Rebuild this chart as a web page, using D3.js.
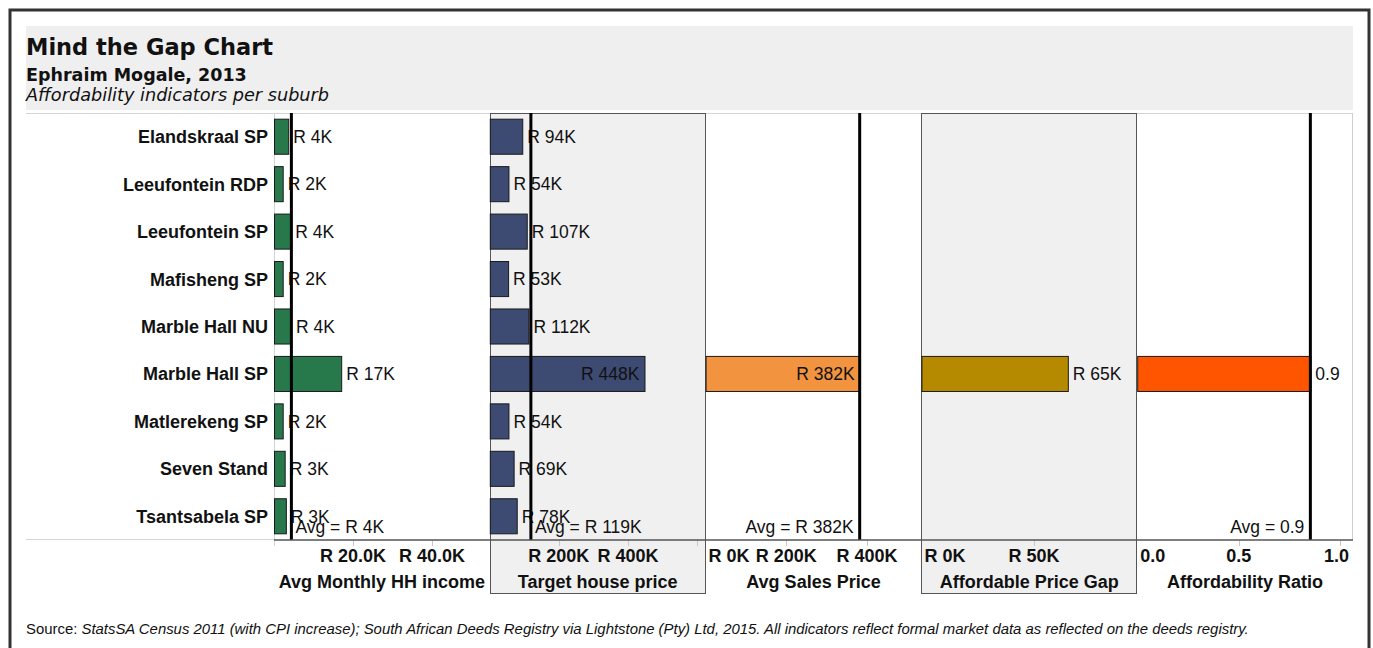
<!DOCTYPE html>
<html>
<head>
<meta charset="utf-8">
<script src="https://cdn.jsdelivr.net/npm/d3@7"></script>
<style>
  html, body { margin: 0; padding: 0; background: #ffffff; }
  svg { display: block; }
</style>
</head>
<body>
<div id="chart"></div>
<script>
// Suburbs (rows) and affordability indicators (one panel per indicator)
const suburbs = [
  "Elandskraal SP", "Leeufontein RDP", "Leeufontein SP", "Mafisheng SP",
  "Marble Hall NU", "Marble Hall SP", "Matlerekeng SP", "Seven Stand", "Tsantsabela SP"
];

// Values in Rand thousands, except the ratio
const hhIncome      = [3.6, 2.2, 4.1, 2.2, 4.3, 17.0, 2.2, 2.7, 3.0];
const targetPrice   = [94, 54, 107, 53, 112, 448, 54, 69, 78];
const salesPrice    = [null, null, null, null, null, 382, null, null, null];
const priceGap      = [null, null, null, null, null, 65, null, null, null];
const affordRatio   = [null, null, null, null, null, 0.853, null, null, null];

const panelTitles   = ["Avg Monthly HH income", "Target house price", "Avg Sales Price",
                       "Affordable Price Gap", "Affordability Ratio"];
const panelAverages = [4.4, 119, 382, null, 0.853];
const panelMax      = [54.6, 625, 535, 95.8, 1.063];
const panelTicks    = [[0, 20, 40], [0, 200, 400, 600], [0, 200, 400], [0, 50], [0, 0.5, 1]];

const panelColors   = ["#27794b", "#3d4a72", "#f2943f", "#b68a00", "#ff5500"];
const panelShaded   = [false, true, false, true, false];

const randK  = v => "R " + d3.format(".0f")(v) + "K";
const randK1 = v => "R " + d3.format(".1f")(v) + "K";
const ratio  = v => d3.format(".1f")(v);

const valueFormats = [randK, randK, randK, randK, ratio];
const tickFormats  = [randK1, randK, randK, randK, ratio];
const series = [hhIncome, targetPrice, salesPrice, priceGap, affordRatio];

const W = 1373, H = 648;
const plotTop = 113, plotBottom = 540, plotLeft = 274, plotRight = 1353;
const FONT = "'Liberation Sans', Arial, Helvetica, sans-serif";

const svg = d3.select("#chart").append("svg")
  .attr("width", W).attr("height", H)
  .style("font-family", FONT);

// Outer frame
svg.append("rect")
  .attr("x", 10).attr("y", 10).attr("width", 1359).attr("height", 700)
  .attr("fill", "none").attr("stroke", "#333").attr("stroke-width", 3);

// Header block
svg.append("rect")
  .attr("x", 26).attr("y", 26).attr("width", plotRight - 26).attr("height", 84)
  .attr("fill", "#efefef");

const head = svg.append("g").style("font-family", "'DejaVu Sans', Verdana, sans-serif").attr("fill", "#111");
head.append("text").attr("x", 26).attr("y", 55)
  .style("font-size", "22.5px").style("font-weight", "bold").text("Mind the Gap Chart");
head.append("text").attr("x", 26).attr("y", 81)
  .style("font-size", "17.5px").style("font-weight", "bold").text("Ephraim Mogale, 2013");
head.append("text").attr("x", 26).attr("y", 101)
  .style("font-size", "17.7px").style("font-style", "italic").text("Affordability indicators per suburb");

// Scales
const y = d3.scaleBand().domain(suburbs).range([plotTop, plotBottom])
  .paddingInner(0.24).paddingOuter(0.12);
const panelX = d3.scaleBand().domain(d3.range(5)).range([plotLeft, plotRight]);
const pw = panelX.bandwidth();

// Grid frame
svg.append("line").attr("x1", 26).attr("x2", plotRight).attr("y1", plotTop + 0.5).attr("y2", plotTop + 0.5)
  .attr("stroke", "#d4d4d4");
svg.append("line").attr("x1", 26).attr("x2", plotLeft).attr("y1", plotBottom - 0.5).attr("y2", plotBottom - 0.5)
  .attr("stroke", "#d4d4d4");
svg.append("line").attr("x1", plotLeft + 0.5).attr("x2", plotLeft + 0.5).attr("y1", plotTop).attr("y2", plotBottom + 6)
  .attr("stroke", "#d4d4d4");
svg.append("line").attr("x1", plotRight - 0.5).attr("x2", plotRight - 0.5).attr("y1", plotTop).attr("y2", plotBottom)
  .attr("stroke", "#cfcfcf");

// Shaded panel boxes (extend down around the axis title)
panelShaded.forEach((s, i) => {
  if (!s) return;
  const x0 = Math.round(panelX(i)) + 0.5;
  svg.append("rect")
    .attr("x", x0).attr("y", plotTop + 0.5)
    .attr("width", Math.round(panelX(i) + pw) - Math.round(panelX(i)) - 1)
    .attr("height", 593 - plotTop)
    .attr("fill", "#f0f0f0").attr("stroke", "#555").attr("stroke-width", 1);
});

// Category labels
svg.append("g").selectAll("text").data(suburbs).join("text")
  .attr("x", 268).attr("y", d => y(d) + y.bandwidth() / 2 + 6.5)
  .attr("text-anchor", "end")
  .style("font-size", "18px").style("font-weight", "bold").attr("fill", "#111")
  .text(d => d);

// Panels
series.forEach((vals, i) => {
  const x0 = panelX(i), x1 = panelX(i) + pw;
  const x = d3.scaleLinear().domain([0, panelMax[i]]).range([x0, x1]);
  const g = svg.append("g");
  const fmt = valueFormats[i];

  const rows = suburbs.map((s, k) => ({ s, v: vals[k] })).filter(d => d.v != null);

  g.selectAll("rect.bar").data(rows).join("rect")
    .attr("class", "bar")
    .attr("x", x(0) + 0.5).attr("y", d => y(d.s) + 0.5)
    .attr("width", d => x(d.v) - x(0))
    .attr("height", y.bandwidth() - 1)
    .attr("fill", panelColors[i]).attr("stroke", "#1a1a1a").attr("stroke-width", 1);

  // Value labels: outside the bar unless there's no room before the panel edge
  g.selectAll("text.val").data(rows).join("text")
    .attr("class", "val")
    .attr("y", d => y(d.s) + y.bandwidth() / 2 + 6.3)
    .style("font-size", "17.5px").attr("fill", "#111")
    .text(d => fmt(d.v))
    .each(function (d) {
      const w = this.getComputedTextLength();
      const end = x(d.v);
      const t = d3.select(this);
      if (end + 5 + w > x1 - 8) t.attr("x", end - 5).attr("text-anchor", "end");
      else t.attr("x", end + 5).attr("text-anchor", "start");
    });

  // Average reference line
  const avg = panelAverages[i];
  if (avg != null) {
    const ax = x(avg);
    g.append("line").attr("x1", ax).attr("x2", ax).attr("y1", plotTop).attr("y2", plotBottom)
      .attr("stroke", "#000").attr("stroke-width", 3);
    const leftSide = ax > (x0 + x1) / 2;
    g.append("text")
      .attr("x", leftSide ? ax - 6 : ax + 4)
      .attr("y", 533)
      .attr("text-anchor", leftSide ? "end" : "start")
      .style("font-size", "17.5px").attr("fill", "#111")
      .text("Avg = " + fmt(avg));
  }

  // Axis: tick marks and labels (edge labels kept inside, dropped if they collide)
  const ticks = panelTicks[i];
  g.selectAll("line.tick").data(ticks.filter(t => t > 0)).join("line")
    .attr("class", "tick")
    .attr("x1", t => Math.round(x(t)) + 0.5).attr("x2", t => Math.round(x(t)) + 0.5)
    .attr("y1", plotBottom).attr("y2", plotBottom + 6)
    .attr("stroke", "#c8c8c8");

  const labels = g.selectAll("text.tk").data(ticks).join("text")
    .attr("class", "tk")
    .attr("y", 562)
    .style("font-size", "18px").style("font-weight", "bold").attr("fill", "#111")
    .text(t => tickFormats[i](t));

  const placed = [];
  const items = [];
  labels.each(function (t) {
    const w = this.getComputedTextLength();
    let l = x(t) - w / 2, edge = false;
    if (l < x0 + 3) { l = x0 + 3; edge = true; }
    if (l + w > x1 - 4) { l = x1 - 4 - w; edge = true; }
    items.push({ node: this, l, r: l + w, edge });
  });
  items.sort((a, b) => a.edge - b.edge).forEach(it => {
    const hit = placed.some(p => it.l < p.r + 4 && it.r > p.l - 4);
    if (hit) { d3.select(it.node).remove(); return; }
    placed.push(it);
    d3.select(it.node).attr("x", it.l);
  });

  svg.append("text")
    .attr("x", (x0 + x1) / 2).attr("y", 588).attr("text-anchor", "middle")
    .style("font-size", "18px").style("font-weight", "bold").attr("fill", "#111")
    .text(panelTitles[i]);
});

// Axis baseline
svg.append("line").attr("x1", plotLeft).attr("x2", plotRight)
  .attr("y1", plotBottom).attr("y2", plotBottom)
  .attr("stroke", "#555").attr("stroke-width", 1.5);

// Source note
const src = svg.append("text").attr("x", 26).attr("y", 634)
  .style("font-size", "14.9px").attr("fill", "#111");
src.append("tspan").text("Source: ");
src.append("tspan").style("font-style", "italic")
  .text("StatsSA Census 2011 (with CPI increase); South African Deeds Registry via Lightstone (Pty) Ltd, 2015. All indicators reflect formal market data as reflected on the deeds registry.");
</script>
</body>
</html>
